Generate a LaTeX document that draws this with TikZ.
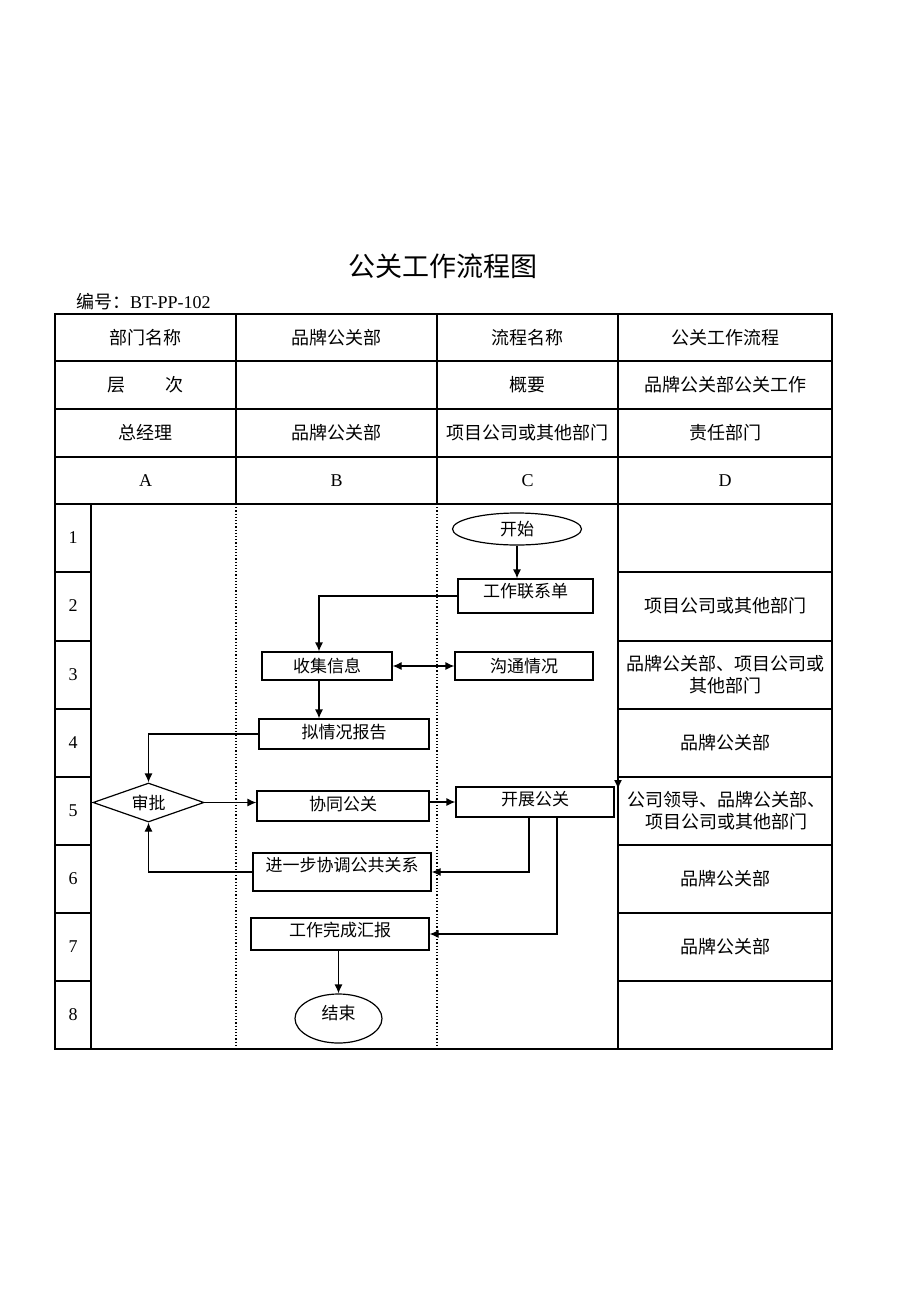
\documentclass[tikz,border=0pt]{standalone}
\usepackage{fontspec}
\setmainfont{Liberation Serif}
\newfontfamily\cjk{Noto Sans CJK SC}
\usetikzlibrary{shapes.geometric,arrows.meta}
\tikzset{every picture/.style={x=1pt,y=-1pt}}
\tikzset{cell/.style={font=\fontsize{18}{22}\selectfont\cjk,align=center}}
\tikzset{num/.style={font=\fontsize{18}{22}\selectfont}}
\tikzset{box/.style={draw,line width=1.2pt,font=\fontsize{17}{20}\selectfont\cjk,inner sep=0pt}}
\tikzset{hi/.style={text depth=#1}}
\tikzset{edge/.style={line width=1.2pt,-{Latex[length=9pt,width=8pt]}}}
\tikzset{edge2/.style={line width=1.2pt,{Latex[length=9pt,width=8pt]}-{Latex[length=9pt,width=8pt]}}}
\tikzset{grid/.style={line width=1.6pt}}

\begin{document}
\begin{tikzpicture}
\useasboundingbox (0,0) rectangle (920,1301);

\node [font=\fontsize{27}{30}\selectfont\cjk] (title) at (443,266) {公关工作流程图};
\node [num,anchor=west,inner sep=0pt] (code) at (76,302) {{\cjk 编号：}BT-PP-102};

% table frame
\draw [grid] (55,314) rectangle (832,1049);
\draw [grid] (55,361) -- (832,361);
\draw [grid] (55,409) -- (832,409);
\draw [grid] (55,457) -- (832,457);
\draw [grid] (55,504) -- (832,504);
\draw [grid] (236,314) -- (236,504);
\draw [grid] (437,314) -- (437,504);
\draw [grid] (618,314) -- (618,1049);
\draw [grid] (91,504) -- (91,1049);
\draw [line width=1.2pt,dotted] (236,504) -- (236,1049);
\draw [line width=1.2pt,dotted] (437,504) -- (437,1049);

\draw [grid] (55,572) -- (91,572);
\draw [grid] (55,641) -- (91,641);
\draw [grid] (55,709) -- (91,709);
\draw [grid] (55,777) -- (91,777);
\draw [grid] (55,845) -- (91,845);
\draw [grid] (55,913) -- (91,913);
\draw [grid] (55,981) -- (91,981);
\draw [grid] (618,572) -- (832,572);
\draw [grid] (618,641) -- (832,641);
\draw [grid] (618,709) -- (832,709);
\draw [grid] (618,777) -- (832,777);
\draw [grid] (618,845) -- (832,845);
\draw [grid] (618,913) -- (832,913);
\draw [grid] (618,981) -- (832,981);

% header
\node [cell] (h11) at (145.5,338) {部门名称};
\node [cell] (h12) at (336.5,338) {品牌公关部};
\node [cell] (h13) at (527.5,338) {流程名称};
\node [cell] (h14) at (725,338) {公关工作流程};
\node [cell] (h21) at (145.5,385) {层\hspace{40pt}次};
\node [cell] (h23) at (527.5,385) {概要};
\node [cell] (h24) at (725,385) {品牌公关部公关工作};
\node [cell] (h31) at (145.5,433) {总经理};
\node [cell] (h32) at (336.5,433) {品牌公关部};
\node [cell] (h33) at (527.5,433) {项目公司或其他部门};
\node [cell] (h34) at (725,433) {责任部门};
\node [num] (ca) at (145.5,481) {A};
\node [num] (cb) at (336.5,481) {B};
\node [num] (cc) at (527.5,481) {C};
\node [num] (cd) at (725,481) {D};

% row numbers
\node [num] (r1) at (73,538) {1};
\node [num] (r2) at (73,606) {2};
\node [num] (r3) at (73,675) {3};
\node [num] (r4) at (73,743) {4};
\node [num] (r5) at (73,811) {5};
\node [num] (r6) at (73,879) {6};
\node [num] (r7) at (73,947) {7};
\node [num] (r8) at (73,1015) {8};

% responsible departments
\node [cell] (d2) at (725,606) {项目公司或其他部门};
\node [cell] (d3) at (725,675) {品牌公关部、项目公司或\\其他部门};
\node [cell] (d4) at (725,743) {品牌公关部};
\node [cell] (d5) at (726,811) {公司领导、品牌公关部、\\项目公司或其他部门};
\node [cell] (d6) at (725,879) {品牌公关部};
\node [cell] (d7) at (725,947) {品牌公关部};

% flow
\node [box,ellipse,minimum width=129pt,minimum height=32pt] (start) at (517,529) {开始};
\node [box,hi=12pt,minimum width=135pt,minimum height=34pt] (lian) at (525.5,596) {工作联系单};
\node [box,minimum width=130pt,minimum height=28pt] (shou) at (327,666) {收集信息};
\node [box,minimum width=138pt,minimum height=28pt] (gou) at (524,666) {沟通情况};
\node [box,hi=6pt,minimum width=170pt,minimum height=30pt] (ni) at (344,734) {拟情况报告};
\node [box,diamond,aspect=2.85,minimum width=111pt,minimum height=39pt] (shen) at (148.5,802.5) {审批};
\node [box,hi=6pt,minimum width=172pt,minimum height=30pt] (xie) at (343,806) {协同公关};
\node [box,hi=8pt,minimum width=158pt,minimum height=30pt] (kai) at (535,802) {开展公关};
\node [box,hi=16pt,minimum width=178pt,minimum height=38pt] (jin) at (342,872) {进一步协调公共关系};
\node [box,hi=10pt,minimum width=178pt,minimum height=32pt] (hui) at (340,934) {工作完成汇报};
\node [box,ellipse,hi=12pt,minimum width=87pt,minimum height=49pt] (stop) at (338.5,1018.5) {结束};

\draw [edge] (start) -- (start |- lian.north);
\draw [edge] (lian.west) -| ([xshift=-8pt]shou.north);
\draw [edge2] (shou) -- (gou);
\draw [edge] ([xshift=-8pt]shou.south) -- ([xshift=-8pt]shou.south |- ni.north);
\draw [edge] (ni.west) -| (shen.north);
\draw [edge] (shen.east) -- (shen.east -| xie.west);
\draw [edge] (kai.west -| xie.east) -- (kai.west);
\draw [edge] ([xshift=-6pt]kai.south) |- (jin.east);
\draw [edge] ([xshift=22pt]kai.south) |- (hui.east);
\draw [edge] (jin.west) -| (shen.south);
\draw [edge] (stop |- hui.south) -- (stop);

\coordinate (tip1) at (618,777);
\coordinate (tip2) at (618,789);
\draw [edge] (tip1) -- (tip2);
\end{tikzpicture}
\end{document}
